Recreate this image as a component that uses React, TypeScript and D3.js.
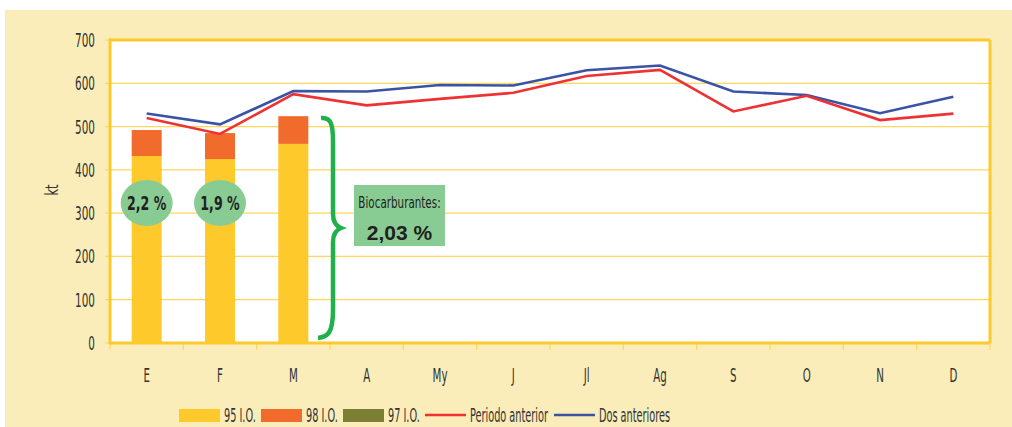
import React from "react";
import * as d3 from "d3";

const months = ["E", "F", "M", "A", "My", "J", "Jl", "Ag", "S", "O", "N", "D"];
const io95 = [432, 425, 460];
const io98 = [60, 60, 64];
const io97 = [0, 0, 0];
const periodoAnterior = [520, 483, 575, 549, 564, 578, 617, 631, 535, 571, 515, 530];
const dosAnteriores = [530, 505, 582, 581, 596, 595, 630, 641, 581, 573, 531, 569];
const yTicks = [0, 100, 200, 300, 400, 500, 600, 700];
const pctLabels = ["2,2 %", "1,9 %"];
const bioLabel = "Biocarburantes:";
const bioValue = "2,03 %";
const legendItems = [
  { label: "95 I.O.", type: "rect", color: "#FDC92B" },
  { label: "98 I.O.", type: "rect", color: "#F16C2C" },
  { label: "97 I.O.", type: "rect", color: "#7B7F34" },
  { label: "Periodo anterior", type: "line", color: "#EE3133" },
  { label: "Dos anteriores", type: "line", color: "#3A54A5" },
];

const W = 1012;
const H = 427;
const L = 110, R = 990, T = 40, B = 343;
const FONT = "'DejaVu Sans Condensed', 'DejaVu Sans', sans-serif";

function CText({ x, y, children, anchor = "start", size = 17, sx = 0.62, fill = "#333", weight = "normal" as any }) {
  return (
    <text
      transform={`translate(${x},${y}) scale(${sx},1)`}
      textAnchor={anchor}
      fontFamily={FONT}
      fontSize={size}
      fill={fill}
      fontWeight={weight}
    >
      {children}
    </text>
  );
}

export default function App() {
  const x = d3.scaleBand().domain(months).range([L, R]);
  const y = d3.scaleLinear().domain([0, 700]).range([B, T]);
  const bw = 30;

  const line = d3
    .line<number>()
    .x((_, i) => x(months[i])! + x.bandwidth() / 2)
    .y((d) => y(d));

  const stacks = io95.map((v, i) => {
    const a = v, b = v + io98[i], c = b + io97[i];
    return { m: months[i], s: [[0, a], [a, b], [b, c]] };
  });
  const barColors = ["#FDC92B", "#F16C2C", "#7B7F34"];

  const bx = 333;
  const yTop = 118, yBot = 340, yMid = 228;
  const brace = `M ${bx - 12} ${yTop} C ${bx - 2} ${yTop - 1} ${bx} ${yTop + 6} ${bx} ${yTop + 24}
    L ${bx} ${yMid - 14} C ${bx} ${yMid - 6} ${bx + 3} ${yMid - 2} ${bx + 8} ${yMid}
    C ${bx + 3} ${yMid + 2} ${bx} ${yMid + 6} ${bx} ${yMid + 14}
    L ${bx} ${yBot - 30} C ${bx} ${yBot - 6} ${bx - 6} ${yBot - 3} ${bx - 15} ${yBot - 2}`;

  let lx = 179;
  const legendY = 415;
  const textWidths = [36, 36, 36, 83, 70];

  return (
    <svg width={W} height={H} style={{ position: "absolute", left: 0, top: 0 }}>
      <rect x={0} y={0} width={W} height={H} fill="#fff" />
      <rect x={5} y={10} width={W - 5} height={H - 10} fill="#FAEDBA" />
      <rect x={L} y={T} width={R - L} height={B - T} fill="#fff" />
      {yTicks.map((t) => (
        <g key={t}>
          <line x1={L - 5} x2={R} y1={y(t)} y2={y(t)} stroke="#FDD85C" strokeWidth={1.2} />
          <CText x={95} y={y(t) + 7} anchor="end" size={20} sx={0.58}>{t}</CText>
        </g>
      ))}
      {months.map((m) => (
        <g key={m}>
          <line x1={x(m)!} x2={x(m)!} y1={B} y2={B + 7} stroke="#FDD85C" strokeWidth={1.2} />
          <CText x={x(m)! + x.bandwidth() / 2} y={382} anchor="middle" size={19} sx={0.6}>{m}</CText>
        </g>
      ))}
      <line x1={R} x2={R} y1={B} y2={B + 7} stroke="#FDD85C" strokeWidth={1.2} />
      {stacks.map((st) =>
        st.s.map((seg, j) =>
          seg[1] > seg[0] ? (
            <rect
              key={st.m + j}
              x={x(st.m)! + x.bandwidth() / 2 - bw / 2}
              y={y(seg[1])}
              width={bw}
              height={y(seg[0]) - y(seg[1])}
              fill={barColors[j]}
            />
          ) : null
        )
      )}
      <path d={line(dosAnteriores)!} fill="none" stroke="#3A54A5" strokeWidth={2.6} />
      <path d={line(periodoAnterior)!} fill="none" stroke="#EE3133" strokeWidth={2.6} />
      <line x1={L} x2={R} y1={T} y2={T} stroke="#FDC92B" strokeWidth={3} />
      <line x1={R} x2={R} y1={T} y2={B} stroke="#FDC92B" strokeWidth={3} />
      <line x1={L} x2={L} y1={T - 1.5} y2={B + 1.5} stroke="#FDC92B" strokeWidth={3} />
      <line x1={L} x2={R} y1={B} y2={B} stroke="#FDC92B" strokeWidth={3} />
      {pctLabels.map((p, i) => {
        const cx = x(months[i])! + x.bandwidth() / 2;
        return (
          <g key={p}>
            <ellipse cx={cx} cy={203} rx={26} ry={23} fill="#88CC94" />
            <CText x={cx} y={210} anchor="middle" size={20} sx={0.7} fill="#231F20" weight="bold">{p}</CText>
          </g>
        );
      })}
      <path d={brace} fill="none" stroke="#22B04C" strokeWidth={4.5} strokeLinecap="butt" />
      <rect x={354} y={185} width={91} height={61} fill="#88CC94" />
      <CText x={399.5} y={208} anchor="middle" size={16} sx={0.72} fill="#231F20">{bioLabel}</CText>
      <text x={399.5} y={240} textAnchor="middle" fontFamily="'Liberation Sans', Arial, sans-serif" fontWeight="bold" fontSize={21} fill="#231F20">{bioValue}</text>
      <text transform={`translate(58,190) rotate(-90) scale(0.75,1)`} textAnchor="middle" fontFamily={FONT} fontSize={17} fill="#333">kt</text>
      {legendItems.map((it, i) => {
        const sx0 = lx;
        lx += 41 + 4 + textWidths[i] + 1;
        return (
          <g key={it.label}>
            {it.type === "rect" ? (
              <rect x={sx0} y={legendY - 6} width={41} height={13} fill={it.color} />
            ) : (
              <line x1={sx0} x2={sx0 + 41} y1={legendY} y2={legendY} stroke={it.color} strokeWidth={2.5} />
            )}
            <CText x={sx0 + 45} y={legendY + 7} size={19} sx={0.57}>{it.label}</CText>
          </g>
        );
      })}
    </svg>
  );
}
